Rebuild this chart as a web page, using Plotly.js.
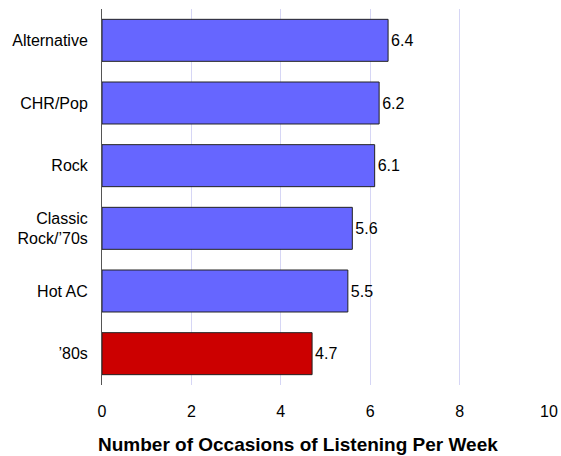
<!DOCTYPE html>
<html>
<head>
<meta charset="utf-8">
<script src="https://cdn.plot.ly/plotly-3.0.1.min.js"></script>
<style>html,body{margin:0;padding:0;background:#fff;}#chart{width:561px;height:456px;}</style>
</head>
<body>
<div id="chart"></div>
<script>
const categories = ["Alternative", "CHR/Pop", "Rock", "Classic<br>Rock/\u201970s", "Hot AC", "\u201980s"];
const values = [6.4, 6.2, 6.1, 5.6, 5.5, 4.7];
const barColors = ["#6666ff", "#6666ff", "#6666ff", "#6666ff", "#6666ff", "#cc0000"];
const xTicks = [0, 2, 4, 6, 8, 10];
const xTitle = "Number of Occasions of Listening Per Week";

const trace = {
  type: "bar",
  orientation: "h",
  y: categories,
  x: values,
  marker: { color: barColors, line: { color: "#222", width: 1 } },
  text: values.map(v => v.toFixed(1)),
  textposition: "outside",
  textfont: { family: "Liberation Sans, Arial, sans-serif", size: 16, color: "#000" },
  cliponaxis: false,
  hoverinfo: "none"
};

const layout = {
  width: 561, height: 456,
  margin: { l: 102, r: 12, t: 9, b: 71 },
  paper_bgcolor: "#fff", plot_bgcolor: "#fff",
  font: { family: "Liberation Sans, Arial, sans-serif", size: 16, color: "#000" },
  showlegend: false,
  bargap: 0.33,
  xaxis: {
    range: [0, 10],
    tickvals: xTicks,
    ticktext: xTicks.map(String),
    showgrid: true, gridcolor: "#d6d6f5", gridwidth: 1,
    zeroline: false, showline: false, ticks: "",
    ticklabelstandoff: 15,
    tickfont: { size: 16 }
  },
  yaxis: {
    type: "category",
    autorange: "reversed",
    showgrid: false, zeroline: false,
    showline: true, linecolor: "#555", linewidth: 1,
    ticks: "", ticklabelstandoff: 10,
    tickfont: { size: 16 }
  },
  annotations: [{
    text: "<b>" + xTitle + "</b>",
    xref: "paper", yref: "paper",
    x: 0.4374, y: -0.157,
    xanchor: "center", yanchor: "middle",
    showarrow: false,
    font: { size: 19, color: "#000" }
  }]
};

Plotly.newPlot("chart", [trace], layout, { displayModeBar: false, staticPlot: true });
</script>
</body>
</html>
